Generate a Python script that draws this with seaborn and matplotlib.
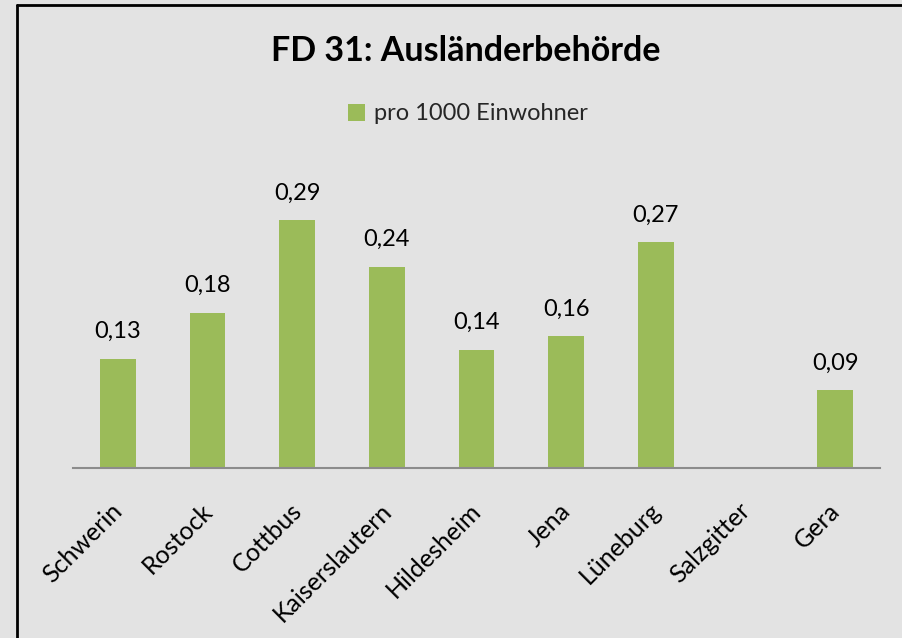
import matplotlib
matplotlib.use("Agg")
import matplotlib.pyplot as plt
import matplotlib.transforms as mtransforms
from matplotlib.patches import Patch
import numpy as np
import seaborn as sns

# Data
cities = ['Schwerin', 'Rostock', 'Cottbus', 'Kaiserslautern', 'Hildesheim',
          'Jena', 'Lüneburg', 'Salzgitter', 'Gera']
values = [0.129, 0.184, 0.293, 0.238, 0.140, 0.156, 0.267, np.nan, 0.092]
series_name = 'pro 1000 Einwohner'
title = 'FD 31: Ausländerbehörde'

bg = '#e3e3e3'
green = '#9bbb59'

sns.set_theme(style='white')
plt.rcParams['font.family'] = ['Lato', 'DejaVu Sans']

fig = plt.figure(figsize=(9.02, 6.38), dpi=100, facecolor=bg)
ax = fig.add_axes([73 / 902, 1 - 468 / 638, (880 - 73) / 902, 0.35 * 845 / 638])
ax.set_facecolor(bg)

sns.barplot(x=cities, y=values, color=green, width=0.4, saturation=1,
            linewidth=0, ax=ax)
ax.set_xlim(-0.5, len(cities) - 0.5)
ax.set_ylim(0, 0.35)

for i, v in enumerate(values):
    if not np.isnan(v):
        ax.annotate(f'{v:.2f}'.replace('.', ','), (i, v), xytext=(0, 12),
                    textcoords='offset points', ha='center', va='bottom',
                    fontsize=17, color='black')

for s in ['top', 'right', 'left']:
    ax.spines[s].set_visible(False)
ax.spines['bottom'].set_color('#8c8c8c')
ax.spines['bottom'].set_linewidth(1.5)
ax.set_yticks([])
ax.tick_params(axis='x', length=0, pad=28, labelsize=18, labelcolor='black')
offset = mtransforms.ScaledTranslation(1 / 100, 0, fig.dpi_scale_trans)
for lbl in ax.get_xticklabels():
    lbl.set_rotation(45)
    lbl.set_ha('right')
    lbl.set_va('center')
    lbl.set_rotation_mode('anchor')
    lbl.set_transform(lbl.get_transform() + offset)

fig.text(466 / 902, 1 - 51 / 638, title, ha='center', va='center',
         fontsize=24.5, fontweight='bold', color='black')
fig.legend(handles=[Patch(facecolor=green, edgecolor='none', label=series_name)],
           loc='center', bbox_to_anchor=(468 / 902, 1 - 114 / 638),
           frameon=False, fontsize=17, handlelength=0.7, handleheight=0.7,
           handletextpad=0.4)

# frame lines (top and left)
fig.add_artist(plt.Line2D([17 / 902, 1], [1 - 5 / 638, 1 - 5 / 638],
                          transform=fig.transFigure, color='black', lw=2))
fig.add_artist(plt.Line2D([17 / 902, 17 / 902], [0, 1 - 5 / 638],
                          transform=fig.transFigure, color='black', lw=2))

fig.savefig('out.png', dpi=100, facecolor=bg)
